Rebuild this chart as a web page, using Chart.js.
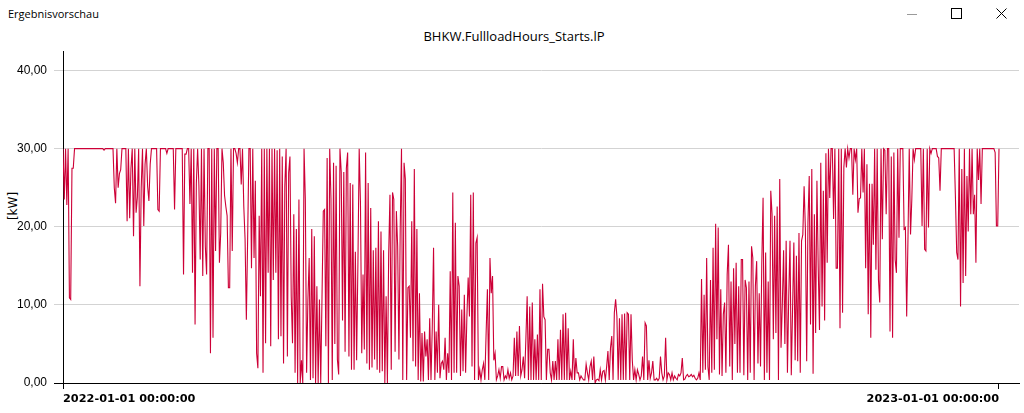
<!DOCTYPE html>
<html>
<head>
<meta charset="utf-8">
<title>Ergebnisvorschau</title>
<script src="https://cdn.jsdelivr.net/npm/chart.js@4.4.0/dist/chart.umd.min.js"></script>
<style>
  body { margin: 0; background: #fff; }
  #wrap { position: relative; width: 1024px; height: 413px; overflow: hidden; }
  #chart { position: absolute; left: 0; top: 0; }
  #wintitle { position: absolute; left: 8px; top: 6px; font: 11px 'Open Sans', sans-serif; color: #000; }
  #title { position: absolute; left: 0; width: 1028px; top: 27px; text-align: center; font: 13px 'Open Sans', sans-serif; color: #000; }
  #unit { position: absolute; left: 13px; top: 206px; font: 12px 'DejaVu Sans', sans-serif; color: #000;
          transform: translate(-50%, -50%) rotate(-90deg); white-space: nowrap; }
  .min { position: absolute; left: 907px; top: 14px; width: 10px; height: 1px; background: #9a9a9a; }
  .max { position: absolute; left: 951px; top: 8px; width: 9px; height: 9px; border: 1px solid #000; }
  .close { position: absolute; left: 996px; top: 8px; }
</style>
</head>
<body>
<div id="wrap">
  <div id="wintitle">Ergebnisvorschau</div>
  <div class="min"></div>
  <div class="max"></div>
  <svg class="close" width="11" height="11"><path d="M0.5 0.5 L10.5 10.5 M10.5 0.5 L0.5 10.5" stroke="#000" stroke-width="1"/></svg>
  <div id="title">BHKW.FullloadHours_Starts.lP</div>
  <div id="unit">[kW]</div>
  <canvas id="chart" width="1024" height="413"></canvas>
</div>
<script>
// Werte je Monat, ein Wert alle 12 Stunden [kW]
var jan = [30,23.5,30,22.8,30,10.9,10.7,27.5,27.5,
  30,30,30,30,30,30,30,30,30,30,30,30,30,30,30,30,30,30,30,30,30,30,30,
  29.8,30,30,30,30,30,30,30,
  25,23,30,25,26.8,27.3,30,30,30,30,20.7,30,21.1,27.5,30,18.8,30,21.8,23.8,30,12.4,25]
var feb = [30,20.1,28,30,25.2,23.3,28,30,30,30,30,30,22.2,22,30,30,30,30,30,29.4,
  30,30,30,30,30,22.2,30,30,30,30,30,30,13.9,29.3,29.3,30,30,22.9,30,14.1,
  30,7.5,25.6,30,25.2,15.8,30,13.7,30,17.5,13.9,30,30,3.8,30,5.8]
var mar = [30,16.9,30,30,15.4,19.2,30,28.2,24,22.6,21.4,12.2,12.2,30,16.9,30,30,29.4,28.2,30,
  30,25.4,30,22.6,18.4,8.1,18.4,30,30,14.7,30,16,25.9,3.8,1.9,21.4,11.1,30,1.3,30,
  5.1,30,14.1,30,4.7,30,13.2,30,14.1,29.8,5.6,30,6,29,2.5,25.2,30,3.4,26.9,29,11.1,5.1]
var apr = [21.6,1.3,19.7,0,23.5,0,2.9,0,30,23.5,1.3,10.7,16,0.4,19.7,0.6,18.8,0,12.4,0,
  10.7,0,10.9,22,22.2,4.7,28.8,0,30,23.6,0.4,28.2,5,27.8,3,1.1,30,27,8,27,
  4,27.5,29.5,3.4,25.6,1.7,25.4,1.7,16.8,2.9,15.2,30,23,3.8,13.9,4.3,29.5,2.5,25.6,1.7]
var may = [22.4,2,17,3,17.3,1.7,20.7,1.3,19.4,1.5,17,0,11.1,0,16.5,24.1,1.7,24.4,23.5,4,
  22,17.5,3,19.7,30,0.4,28.2,26.1,0.4,12.2,12.4,5.8,20.7,2.8,27.4,2.1,19.7,0.4,11.5,0.2,
  6.4,0.2,6.6,3.4,5.6,0.4,8.3,0.4,7.1,17.3,0.4,6.6,1.3,10,0.6,2.5,2.8,1.7,5.8,0.4,3.8,1.3]
var jun = [14.3,0.4,24.4,1.3,20.5,1.3,13.7,12.4,0.9,9.4,1.5,11.3,1.3,8.5,13.5,8.5,24.1,2.1,24.4,0.4,
  17.9,18.6,0.4,1.7,0.4,1.7,2.5,0.4,6.4,12,0.4,16,11.5,13.7,2.9,3.8,0.4,0.9,1.7,0.6,
  2.1,2.1,0.4,0.9,0.6,1.7,0.6,1.3,0.4,0.9,5.8,0.9,6.6,0.9,7.3,0.9,1.7,3.4,0.6,5.6]
var jul = [11.1,0.4,9.8,0.4,10.3,0.4,5.6,0.4,6.2,0.4,12,0.4,12.7,8.5,8.1,0.4,4.3,4.3,1.3,0.4,
  2.8,0.4,2.8,0.4,5.6,0.4,6.8,0.4,8.8,0.4,9,0.4,7,0.4,1.5,0.4,5.6,0.4,3.2,1.3,
  1.3,0.4,0.9,0.6,0.4,0.4,2.4,1.3,0.4,2.1,2.8,0.4,3.4,0,0.4,0.5,0.3,1.7,0.4,1.5,1.6,0.4]
var aug = [2.1,4.1,0.4,4.5,6,0.4,9,10.7,8.5,0.4,8.3,0.4,8.8,0.4,8.9,0.4,9,8.8,0.4,8.8,
  2.9,0.4,1.7,0.4,1.7,1.1,0.4,0.9,3.4,0.4,7.7,7.3,0.4,2.9,0.6,1.3,2.8,0.4,0.4,0.6,
  0.3,0.6,3.4,1.3,0.4,0.9,5.8,0.4,1.3,1.1,0.4,1.3,0.4,0.9,0.6,0.4,1.1,0.9,1.3,3.2,0.4,0.5]
var sep = [0.9,1.1,0.8,0.9,1.1,0.8,1,0.6,0.4,0.6,1.3,0.4,13.3,1.3,11.3,1.7,16,2.1,0.4,13.2,
  1.3,17.3,1.7,20.4,5.6,19.9,1.1,12,0.9,8.8,10.3,1.3,13.9,17.7,2.1,13,0.4,14.7,5,15.4,
  1.3,12.4,1.3,15.8,15.8,1,13.2,12.2,0.4,13,1.3,17.5,16,0.4,12.4,15.6,2.5,11.5,2.1,15.4]
var oct = [23.7,0.4,16.7,1.3,13,0.4,24.6,21.6,5.6,21.4,6.4,22.6,0.4,26.1,4.5,10,17,5,18.2,1.3,
  11,18.2,1,9.4,18,2.9,16.3,2.8,19.2,1.3,18.2,19,25.2,19.7,2.8,20.5,26.5,7.5,27.4,1.2,
  21.6,6.4,25.9,14.9,6.8,28.2,9.8,24.6,8,29.4,15.4,30,23.7,30,30,21,30,14.7,14.7,30,7,30]
var nov = [9,27.6,30,27.6,30,28.8,30,30,24.1,30,28.6,30,21.8,23.6,23.7,30,24.4,30,14.7,28,
  8.8,25.5,5.8,25.5,17.7,30,14.5,30,13.2,10.3,30,18.4,30,29.8,21.6,30,30,6.6,29,5.8,
  29.5,15.8,14.1,30,18.6,30,30,30,19.7,19.9,8.5,18.4,30,19,23.5,30,28.6,30,30,30]
var dec = [30,30,20.1,30,17.1,16.9,30,19.9,30,29.4,30,30,30,30,29,28.8,24.6,30,
  30,30,30,30,30,30,30,30,30,30,
  23.9,16.7,15.8,30,9.8,27.4,12.8,30,13.7,26.5,19.4,30,21.6,30,21.6,24.1,15.4,30,26,30,22.9,30,
  30,30,30,30,30,30,30,30,30,29.5,20.1,20.1,30]

var stepDays = 0.5          // Abstand der Werte in Tagen
var xTickDays = [0, 365]
var xTickLabels = ['2022-01-01 00:00:00', '2023-01-01 00:00:00']
var yTicks = [0, 10, 20, 30, 40]

var values = [].concat(jan, feb, mar, apr, may, jun, jul, aug, sep, oct, nov, dec)
var points = values.map(function (v, i) { return { x: i * stepDays, y: v } })

var ctx = document.getElementById('chart').getContext('2d')
new Chart(ctx, {
  type: 'line',
  data: {
    datasets: [{
      label: 'BHKW.FullloadHours_Starts.lP',
      data: points,
      borderColor: 'rgb(205,0,55)',
      borderWidth: 1.1,
      pointRadius: 0,
      fill: false,
      tension: 0
    }]
  },
  options: {
    responsive: false,
    animation: false,
    devicePixelRatio: 1,
    layout: { padding: { top: 51, right: 5, left: 0, bottom: 0 } },
    plugins: { legend: { display: false }, tooltip: { enabled: false } },
    scales: {
      x: {
        type: 'linear',
        min: 0,
        max: 372.8,
        afterFit: function (s) { s.height = 30 },
        afterBuildTicks: function (s) { s.ticks = xTickDays.map(function (v) { return { value: v } }) },
        grid: { drawOnChartArea: false, drawTicks: true, tickLength: 6, color: '#000' },
        border: { display: true, color: '#000', width: 1 },
        ticks: {
          autoSkip: false,
          maxRotation: 0,
          align: 'inner',
          padding: 3,
          color: '#000',
          font: { family: 'DejaVu Sans', size: 11.3, weight: 'bold' },
          callback: function (v) { return xTickLabels[xTickDays.indexOf(v)] }
        }
      },
      y: {
        min: 0,
        max: 42.5,
        afterFit: function (s) { s.width = 63 },
        afterBuildTicks: function (s) { s.ticks = yTicks.map(function (v) { return { value: v } }) },
        grid: {
          color: function (c) { return c.tick && c.tick.value === 0 ? '#000' : '#d3d3d3' },
          tickLength: 9
        },
        border: { display: true, color: '#000', width: 1 },
        ticks: {
          padding: 7,
          color: '#000',
          font: { family: 'Liberation Sans', size: 12 },
          callback: function (v) { return v.toFixed(2).replace('.', ',') }
        }
      }
    }
  }
})
</script>
</body>
</html>
